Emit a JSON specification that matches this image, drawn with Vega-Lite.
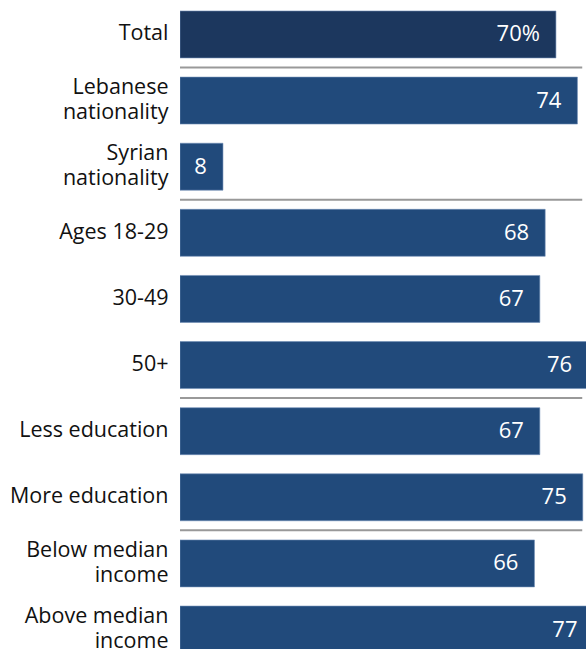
{
  "$schema": "https://vega.github.io/schema/vega-lite/v6.json",
  "autosize": "none",
  "padding": {"left": 180, "top": 0, "right": 0, "bottom": 0},
  "width": 406,
  "height": 664,
  "background": "white",
  "config": {"view": {"stroke": null}, "font": "Open Sans"},
  "datasets": {
    "bars": [
      {"group": "Total", "value": 70, "label": "70%", "total": "yes"},
      {"group": "Lebanese|nationality", "value": 74, "label": "74", "total": "no"},
      {"group": "Syrian|nationality", "value": 8, "label": "8", "total": "no"},
      {"group": "Ages 18-29", "value": 68, "label": "68", "total": "no"},
      {"group": "30-49", "value": 67, "label": "67", "total": "no"},
      {"group": "50+", "value": 76, "label": "76", "total": "no"},
      {"group": "Less education", "value": 67, "label": "67", "total": "no"},
      {"group": "More education", "value": 75, "label": "75", "total": "no"},
      {"group": "Below median|income", "value": 66, "label": "66", "total": "no"},
      {"group": "Above median|income", "value": 77, "label": "77", "total": "no"}
    ],
    "separators": [
      {"group": "Lebanese|nationality"},
      {"group": "Ages 18-29"},
      {"group": "Less education"},
      {"group": "Below median|income"}
    ]
  },
  "layer": [
    {
      "data": {"name": "bars"},
      "mark": {"type": "bar", "clip": true, "stroke": "#6f8db5", "strokeWidth": 0.6},
      "encoding": {
        "y": {
          "field": "group", "type": "nominal", "sort": null,
          "scale": {"paddingInner": 0.29, "paddingOuter": 0.166},
          "axis": {
            "title": null, "domain": false, "ticks": false,
            "labelExpr": "split(datum.label, '|')",
            "labelFont": "Open Sans",
            "labelFontSize": 21.5, "labelColor": "#111111",
            "labelPadding": 12, "labelLineHeight": 25, "labelLimit": 200,
            "labelOffset": {"expr": "indexof(datum.value, '|') >= 0 ? -12.5 : 0"}
          }
        },
        "x": {
          "field": "value", "type": "quantitative",
          "scale": {"domain": [0, 75.6], "nice": false, "zero": true},
          "axis": null
        },
        "color": {
          "field": "total", "type": "nominal",
          "scale": {"domain": ["yes", "no"], "range": ["#1c375e", "#214a7b"]},
          "legend": null
        }
      }
    },
    {
      "data": {"name": "bars"},
      "mark": {"type": "text", "align": "right", "dx": -16, "baseline": "middle", "fontSize": 22, "color": "white", "font": "Open Sans"},
      "encoding": {
        "y": {"field": "group", "type": "nominal", "sort": null},
        "x": {"field": "value", "type": "quantitative"},
        "text": {"field": "label"}
      }
    },
    {
      "data": {"name": "separators"},
      "mark": {"type": "rule", "color": "#999999", "strokeWidth": 2, "yOffset": -9.6},
      "encoding": {
        "y": {"field": "group", "type": "nominal", "sort": null, "bandPosition": 0},
        "x": {"datum": 0},
        "x2": {"datum": 74.9}
      }
    }
  ]
}
